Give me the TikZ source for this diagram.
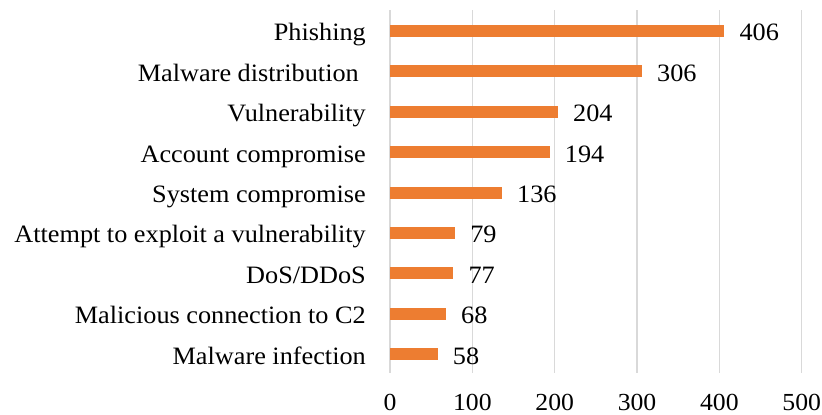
\documentclass[tikz,border=0pt]{standalone}
\usepackage{fontspec}
\setmainfont{Liberation Serif}[FakeStretch=1.05]
\begin{document}
\begin{tikzpicture}[x=1pt,y=-1pt,
  grid/.style={draw=black!15,line width=1.3pt},
  bar/.style={fill=barorange,draw=none},
  cat/.style={anchor=base east,inner sep=0pt,font=\fontsize{25}{29}\selectfont},
  val/.style={anchor=base west,inner sep=0pt,font=\fontsize{25}{29}\selectfont},
  tick/.style={anchor=base,inner sep=0pt,font=\fontsize{24.5}{29}\selectfont}]
\definecolor{barorange}{HTML}{ED7D31}
\useasboundingbox (0,0) rectangle (822,415);
% gridlines and tick labels
\foreach \v/\n in {0/t0,100/t1,200/t2,300/t3,400/t4,500/t5}{
  \coordinate (\n top) at ({390+0.8235*\v},10);
  \coordinate (\n bot) at ({390+0.8235*\v},373);
  \draw[grid] (\n top) -- (\n bot);
  \node[tick] (\n) at ({390+0.8235*\v},410) {\v};
}
% bars
\foreach \i/\v/\lab/\off in {0/406/Phishing/366,1/306/Malware distribution/359,2/204/Vulnerability/366,3/194/Account compromise/366,4/136/System compromise/366,5/79/Attempt to exploit a vulnerability/366,6/77/DoS\slash DDoS/366,7/68/Malicious connection to C2/366,8/58/Malware infection/366}{
  \pgfmathsetmacro{\yc}{31+40.4*\i}
  \fill[bar] (390,{\yc-6}) rectangle ({390+0.8235*\v},{\yc+6});
  \coordinate (b\i) at ({390+0.8235*\v},\yc);
  \node[cat] (c\i) at (\off,{\yc+9.8}) {\lab};
  \node[val] (v\i) at ([xshift=15pt,yshift=-9.8pt]b\i) {\v};
}
\end{tikzpicture}
\end{document}
